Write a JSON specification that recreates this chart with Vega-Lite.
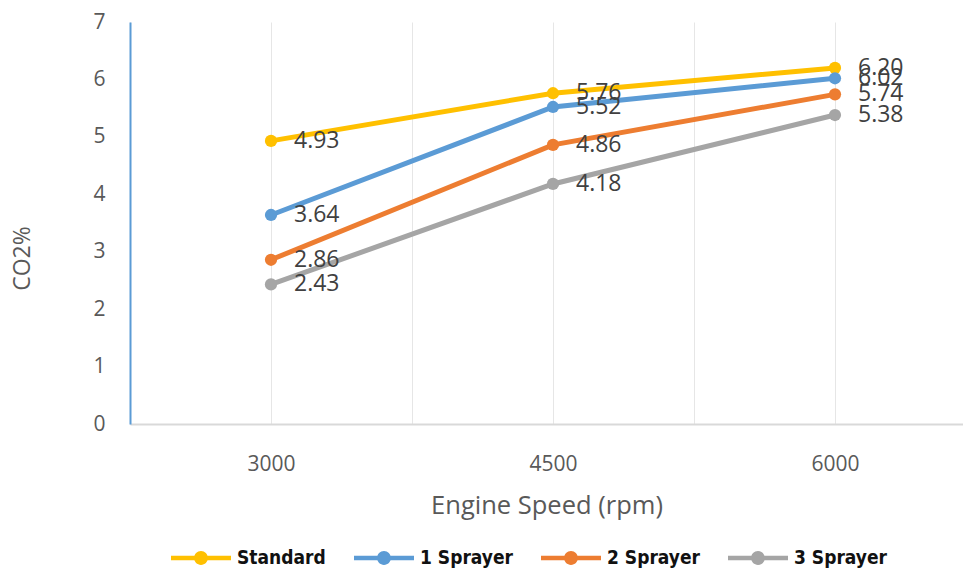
{
  "$schema": "https://vega.github.io/schema/vega-lite/v6.json",
  "width": 833,
  "height": 402,
  "autosize": {"type": "none"},
  "padding": {"left": 130, "top": 22, "right": 0, "bottom": 147},
  "config": {"view": {"stroke": null}, "font": "Open Sans"},
  "data": {
    "values": [
      {"series": "Standard", "speed": 3000, "co2": 4.93},
      {"series": "Standard", "speed": 4500, "co2": 5.76},
      {"series": "Standard", "speed": 6000, "co2": 6.20},
      {"series": "1 Sprayer", "speed": 3000, "co2": 3.64},
      {"series": "1 Sprayer", "speed": 4500, "co2": 5.52},
      {"series": "1 Sprayer", "speed": 6000, "co2": 6.02},
      {"series": "2 Sprayer", "speed": 3000, "co2": 2.86},
      {"series": "2 Sprayer", "speed": 4500, "co2": 4.86},
      {"series": "2 Sprayer", "speed": 6000, "co2": 5.74},
      {"series": "3 Sprayer", "speed": 3000, "co2": 2.43},
      {"series": "3 Sprayer", "speed": 4500, "co2": 4.18},
      {"series": "3 Sprayer", "speed": 6000, "co2": 5.38}
    ]
  },
  "encoding": {
    "x": {
      "field": "speed",
      "type": "quantitative",
      "scale": {"domain": [2250, 6681], "nice": false, "zero": false},
      "axis": {
        "values": [2250, 3000, 3750, 4500, 5250, 6000],
        "format": "d",
        "labelExpr": "indexof([3000, 4500, 6000], datum.value) >= 0 ? datum.label : ''",
        "labelFlush": false,
        "grid": true,
        "gridColor": "#e6e6e6",
        "gridWidth": 1,
        "domainColor": "#d9d9d9",
        "domainWidth": 2,
        "ticks": false,
        "labelFontSize": 21,
        "labelColor": "#595959",
        "labelPadding": 29,
        "title": "Engine Speed (rpm)",
        "titleFontSize": 25.5,
        "titleFontWeight": "normal",
        "titleColor": "#595959",
        "titlePadding": 19
      }
    },
    "y": {
      "field": "co2",
      "type": "quantitative",
      "scale": {"domain": [0, 7], "nice": false},
      "axis": {
        "values": [0, 1, 2, 3, 4, 5, 6, 7],
        "grid": false,
        "domainColor": "#5B9BD5",
        "domainWidth": 2,
        "ticks": false,
        "labelFontSize": 21,
        "labelColor": "#595959",
        "labelPadding": 25,
        "title": "CO2%",
        "titleFontSize": 23,
        "titleFontWeight": "normal",
        "titleColor": "#595959",
        "titlePadding": 58,
        "titleY": 236
      }
    },
    "color": {
      "field": "series",
      "type": "nominal",
      "scale": {
        "domain": ["Standard", "1 Sprayer", "2 Sprayer", "3 Sprayer"],
        "range": ["#FFC000", "#5B9BD5", "#ED7D31", "#A5A5A5"]
      },
      "legend": {
        "orient": "none",
        "legendX": 41,
        "legendY": 506,
        "direction": "horizontal",
        "title": null,
        "padding": 0,
        "symbolType": "M-1,-0.075H1V0.075H-1Z M-0.23,0A0.23,0.23 0 1,1 0.23,0A0.23,0.23 0 1,1 -0.23,0Z",
        "symbolSize": 3600,
        "symbolStrokeWidth": 0,
        "labelFont": "DejaVu Sans Condensed",
        "labelFontWeight": "bold",
        "labelFontSize": 19,
        "labelColor": "#111111",
        "labelOffset": 6,
        "columnPadding": 28,
        "encode": {
          "symbols": {
            "update": {
              "fill": {"scale": "color", "field": "value"},
              "opacity": {"value": 1}
            }
          }
        }
      }
    }
  },
  "layer": [
    {"mark": {"type": "line", "strokeWidth": 5}},
    {"mark": {"type": "point", "filled": true, "size": 150, "opacity": 1}},
    {
      "mark": {"type": "text", "align": "left", "baseline": "middle", "dx": 23, "fontSize": 23},
      "encoding": {
        "text": {"field": "co2", "type": "quantitative", "format": ".2f"},
        "color": {"value": "#404040"}
      }
    }
  ]
}
